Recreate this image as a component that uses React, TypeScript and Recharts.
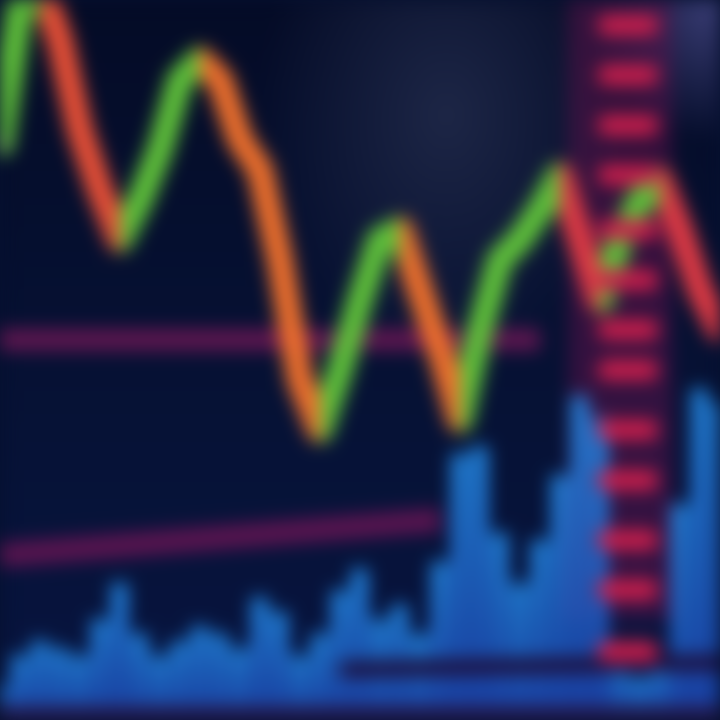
import {
  Bar,
  ComposedChart,
  Line,
  ReferenceArea,
  ReferenceLine,
  Scatter,
  XAxis,
  YAxis,
} from "recharts";

// closing price per step (0..36)
const prices = [
  80, 99, 102, 94.4, 81.9, 73.6, 66.7, 72.2, 79.2, 88.9, 91.7, 88.9, 80.6, 76.4,
  63.9, 47.2, 40.3, 48.6, 58.3, 66.7, 68.1, 59.7, 51.4, 41.7, 54.2, 63.9, 66.7,
  70.8, 75.7, 66.7, 58.3, 66.7, 72.2, 75, 68.1, 59.7, 54.2,
];

// traded volume per step
const volumes = [
  5, 9, 11, 10, 9, 14, 19, 12, 9, 11, 13, 12, 10, 17, 15, 9, 12, 18, 21, 14,
  16, 12, 22, 37, 38, 26, 19, 25, 34, 45, 42, 8, 6, 8, 30, 46, 44,
];

// order book levels on the right
const bookLevels = [
  96.5, 89.6, 82.6, 75.7, 68.1, 61.1, 54.2, 48.6, 40.3, 33.3, 25, 18.1, 9.5,
];

const supportLevel = 52.8;
const trendStart = 22.9;
const trendEnd = 27.8;

const data = prices.map((price, i) => ({ t: i, price, volume: volumes[i] }));
const bookData = bookLevels.map((price) => ({ t: 31.4, price }));

const UP = "#5fc23a";
const DOWN_LEFT = "#ea5036";
const DOWN = "#f0702c";
const DOWN_RIGHT = "#e03a44";

const segColor = (i: number) => {
  if (prices[i + 1] >= prices[i]) return UP;
  if (i < 7) return DOWN_LEFT;
  return i >= 28 ? DOWN_RIGHT : DOWN;
};

const VolumeBar = (p: any) => {
  const cx = p.x + p.width / 2;
  return (
    <rect
      x={cx - 8}
      y={p.y}
      width={16}
      height={p.height}
      fill="url(#vol)"
    />
  );
};

export default function App() {
  const n = prices.length - 1;
  const stops = [];
  for (let i = 0; i < n; i++) {
    const c = segColor(i);
    stops.push(<stop key={`a${i}`} offset={i / n} stopColor={c} />);
    stops.push(<stop key={`b${i}`} offset={(i + 1) / n} stopColor={c} />);
  }

  return (
    <div
      style={{
        width: 720,
        height: 720,
        overflow: "hidden",
        background: "#06102e",
      }}
    >
      <style>{"body{margin:0;background:#06102e}"}</style>
      <div
        style={{
          width: 720,
          height: 720,
          filter: "blur(9px)",
          background:
            "radial-gradient(circle at 100% 0%, #3c3f78 0%, rgba(0,0,0,0) 14%), radial-gradient(ellipse at 62% 16%, #1d2646 0%, rgba(0,0,0,0) 30%), linear-gradient(#040b26, #061236 60%, #071440)",
        }}
      >
        <ComposedChart
          width={720}
          height={720}
          data={data}
          margin={{ top: 0, right: 0, bottom: 0, left: 0 }}
        >
          <defs>
            <linearGradient id="trend" x1="0" y1="0" x2="1" y2="0">
              {stops}
            </linearGradient>
            <linearGradient id="vol" x1="0" y1="0" x2="0" y2="1">
              <stop offset="0" stopColor="#238ae6" />
              <stop offset="1" stopColor="#1d48b8" />
            </linearGradient>
          </defs>
          <XAxis dataKey="t" type="number" domain={[0, 36]} hide />
          <YAxis domain={[0, 100]} allowDataOverflow hide />
          <ReferenceArea
            x1={28.4}
            x2={33.6}
            y1={14}
            y2={100}
            fill="#5a1248"
            fillOpacity={0.55}
            stroke="none"
          />
          <ReferenceLine
            segment={[
              { x: 0, y: supportLevel },
              { x: 27, y: supportLevel },
            ]}
            stroke="#5e1650"
            strokeWidth={22}
          />
          <ReferenceLine
            segment={[
              { x: 0, y: trendStart },
              { x: 22, y: trendEnd },
            ]}
            stroke="#5a1450"
            strokeWidth={24}
          />
          <Bar
            dataKey="volume"
            fill="#2a7ee6"
            barSize={20}
            shape={VolumeBar}
            isAnimationActive={false}
          />
          <ReferenceLine
            segment={[
              { x: 17, y: 7 },
              { x: 36, y: 8 },
            ]}
            stroke="#1c0e3c"
            strokeWidth={16}
          />
          <ReferenceLine y={1} stroke="#2a0c34" strokeWidth={10} />
          <Scatter
            data={bookData}
            dataKey="price"
            isAnimationActive={false}
            shape={(p: any) => (
              <rect
                x={p.cx - 30}
                y={p.cy - 10}
                width={60}
                height={20}
                rx={8}
                fill="#cc1e4c"
              />
            )}
          />
          <Line
            dataKey="price"
            type="linear"
            stroke="url(#trend)"
            strokeWidth={26}
            strokeLinejoin="round"
            strokeLinecap="round"
            dot={false}
            isAnimationActive={false}
          />
        </ComposedChart>
      </div>
    </div>
  );
}
